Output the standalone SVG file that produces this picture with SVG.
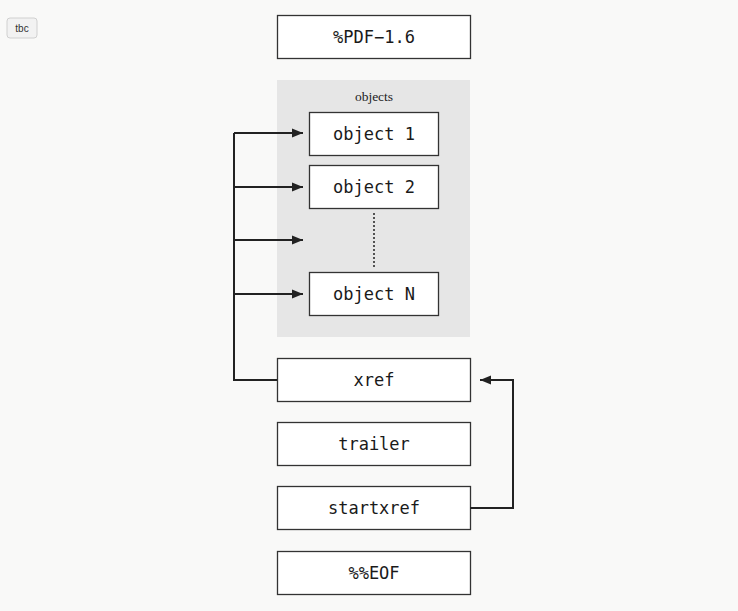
<svg xmlns="http://www.w3.org/2000/svg" width="738" height="611" viewBox="0 0 738 611">
<style>
.box{fill:#ffffff;stroke:#333333;stroke-width:1.3}
.t{font-family:"DejaVu Sans Mono","Liberation Mono",monospace;font-size:17px;fill:#1a1a1a;text-anchor:middle;dominant-baseline:central}
.edge{fill:none;stroke:#222222;stroke-width:2}
</style>
<defs>
<marker id="ah" viewBox="0 0 10 10" refX="10" refY="5" markerWidth="11" markerHeight="11" markerUnits="userSpaceOnUse" orient="auto">
<path d="M0,1 L10,5 L0,9 Z" fill="#222222"/>
</marker>
</defs>
<rect width="738" height="611" fill="#f9f9f8"/>
<g id="badge">
<rect x="7" y="18" width="30" height="20" rx="3" fill="#f2f2f2" stroke="#d0d0d0"/>
<text x="22" y="28" font-family="Liberation Sans, Arial, sans-serif" font-size="10" fill="#333" text-anchor="middle" dominant-baseline="central">tbc</text>
</g>
<g id="cluster-objects">
<rect x="277" y="80" width="193" height="257" fill="#e6e6e6"/>
<text x="374" y="96" font-family="Liberation Serif, serif" font-size="13.5" fill="#222" text-anchor="middle" dominant-baseline="central">objects</text>
</g>
<g id="header"><rect class="box" x="277.5" y="15.5" width="193" height="43"/><text class="t" x="374" y="36.5">%PDF−1.6</text></g>
<g id="object1"><rect class="box" x="309.5" y="112.5" width="129" height="43"/><text class="t" x="374" y="133.5">object 1</text></g>
<g id="object2"><rect class="box" x="309.5" y="165.5" width="129" height="43"/><text class="t" x="374" y="186.5">object 2</text></g>
<g id="objectN"><rect class="box" x="309.5" y="272.5" width="129" height="43"/><text class="t" x="374" y="293.5">object N</text></g>
<g id="xref"><rect class="box" x="277.5" y="358.5" width="193" height="43"/><text class="t" x="374" y="379.5">xref</text></g>
<g id="trailer"><rect class="box" x="277.5" y="422.5" width="193" height="43"/><text class="t" x="374" y="443.5">trailer</text></g>
<g id="startxref"><rect class="box" x="277.5" y="486.5" width="193" height="43"/><text class="t" x="374" y="507.5">startxref</text></g>
<g id="eof"><rect class="box" x="277.5" y="551.5" width="193" height="43"/><text class="t" x="374" y="572.5">%%EOF</text></g>
<g id="connectors">
<line x1="374" y1="213" x2="374" y2="268" stroke="#222" stroke-width="1.5" stroke-dasharray="2,2"/>
<path class="edge" d="M277,380 H234 V133"/>
<path class="edge" d="M234,133 H303" marker-end="url(#ah)"/>
<path class="edge" d="M234,187 H303" marker-end="url(#ah)"/>
<path class="edge" d="M234,240 H303" marker-end="url(#ah)"/>
<path class="edge" d="M234,294 H303" marker-end="url(#ah)"/>
<path class="edge" d="M470,508 H513 V380 H480" marker-end="url(#ah)"/>
</g>
</svg>
